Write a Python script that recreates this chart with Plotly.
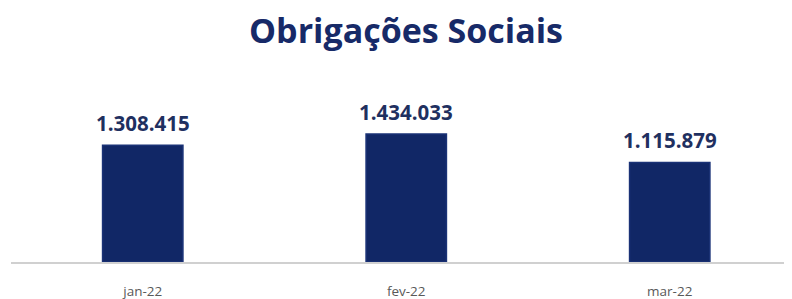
import plotly.graph_objects as go

categories = ["jan-22", "fev-22", "mar-22"]
values = [1308415, 1434033, 1115879]
labels = ["1.308.415", "1.434.033", "1.115.879"]

FONT = "'Open Sans', Lato, sans-serif"

fig = go.Figure()
fig.add_trace(go.Bar(
    x=categories, y=values,
    marker=dict(color="#112766", line=dict(color="#1A3276", width=1.5)),
    width=0.305,
))

for c, v, t in zip(categories, values, labels):
    fig.add_annotation(
        x=c, y=v, text=f"<b>{t}</b>", showarrow=False,
        yanchor="middle", yshift=22,
        font=dict(family=FONT, size=20.5, color="#1F3060"),
    )

fig.update_layout(
    width=784, height=291,
    margin=dict(l=3, r=0, t=72, b=37, autoexpand=False),
    paper_bgcolor="white", plot_bgcolor="white",
    showlegend=False,
    title=dict(text="<b>Obrigações Sociais</b>", x=0.5077, xanchor="center", y=0.92, yanchor="middle",
               font=dict(family=FONT, size=34, color="#172A68")),
)
fig.update_xaxes(
    type="category", range=[-0.5, 2.464], automargin=False,
    showline=True, linecolor="#D0D0D0", linewidth=2,
    showgrid=False, ticks="", ticklabelstandoff=16,
    tickfont=dict(family=FONT, size=13.5, color="#595959"),
)
fig.update_yaxes(range=[0, 2.04e6], visible=False, showgrid=False, automargin=False)

fig.write_html("out.html")
